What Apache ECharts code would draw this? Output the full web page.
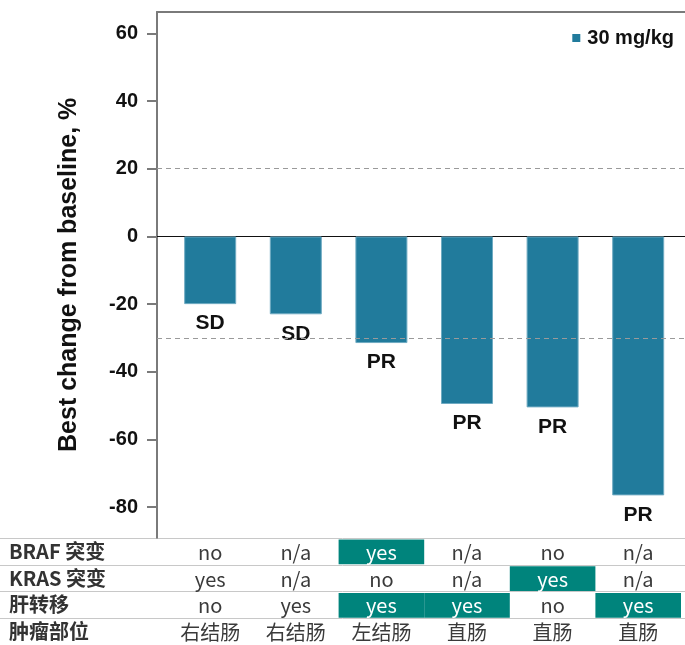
<!DOCTYPE html>
<html>
<head>
<meta charset="utf-8">
<script src="https://cdn.jsdelivr.net/npm/echarts@6/dist/echarts.min.js"></script>
<style>
  html, body { margin: 0; padding: 0; background: #fff; }
  #chart { width: 685px; height: 645px; }
</style>
</head>
<body>
<div id="chart"></div>
<script>
// Best change in tumour size per patient, 30 mg/kg cohort
const seriesName = '30 mg/kg';
const changePct = [-20, -23, -31.5, -49.5, -50.5, -76.5];
const response = ['SD', 'SD', 'PR', 'PR', 'PR', 'PR'];
const yTicks = [-80, -60, -40, -20, 0, 20, 40, 60];
const refLines = [20, -30];

// Patient characteristics shown beneath each bar
const rowLabels = ['BRAF 突变', 'KRAS 突变', '肝转移', '肿瘤部位'];
const brafMut = ['no', 'n/a', 'yes', 'n/a', 'no', 'n/a'];
const krasMut = ['yes', 'n/a', 'no', 'n/a', 'yes', 'n/a'];
const liverMet = ['no', 'yes', 'yes', 'yes', 'no', 'yes'];
const tumourSite = ['右结肠', '右结肠', '左结肠', '直肠', '直肠', '直肠'];

const BAR = '#217b9c';
const TEAL = '#00847c';
const FRAME = '#7a7a7a';
const LATIN = '"Liberation Sans", Arial, sans-serif';
const CJK = '"Noto Sans CJK SC", "Noto Sans", sans-serif';

const tableRows = [brafMut, krasMut, liverMet, tumourSite];
const tableData = [];
tableRows.forEach((row, r) => {
  row.forEach((txt, c) => {
    // "yes" among partial responders is shaded
    const hi = txt === 'yes' && response[c] === 'PR' ? 1 : 0;
    tableData.push([c, r, txt, hi]);
  });
});

// shared horizontal scale: one unit per patient
const X_MAX = 5.5467;
const X_MIN_PLOT = -0.6215;
const X_MIN_TABLE = -2.4556;

const chart = echarts.init(document.getElementById('chart'), null, { renderer: 'canvas' });

chart.setOption({
  backgroundColor: '#fff',
  animation: false,
  legend: {
    data: [seriesName],
    right: 6,
    top: 23,
    icon: 'rect',
    itemWidth: 8,
    itemHeight: 8,
    itemStyle: { borderWidth: 0 },
    textStyle: {
      fontFamily: LATIN, fontWeight: 'bold', fontSize: 20, color: '#111',
      padding: [0, 0, 0, 2]
    }
  },
  grid: [
    { left: 157, right: 0, top: 12, bottom: 107.3 },
    { left: 0, right: 0, top: 538, bottom: -2 }
  ],
  xAxis: [
    {
      gridIndex: 0, type: 'value', min: X_MIN_PLOT, max: X_MAX,
      axisLine: { show: true, onZero: true, lineStyle: { color: '#111', width: 1 } },
      axisTick: { show: false }, axisLabel: { show: false }, splitLine: { show: false }
    },
    {
      gridIndex: 0, type: 'value', position: 'top', min: X_MIN_PLOT, max: X_MAX,
      axisLine: { show: true, onZero: false, lineStyle: { color: FRAME, width: 2 } },
      axisTick: { show: false }, axisLabel: { show: false }, splitLine: { show: false }
    },
    {
      gridIndex: 1, type: 'value', min: X_MIN_TABLE, max: X_MAX,
      axisLine: { show: false }, axisTick: { show: false },
      axisLabel: { show: false }, splitLine: { show: false }
    }
  ],
  yAxis: [
    {
      gridIndex: 0, type: 'value', min: -89, max: 66.3,
      name: 'Best change from baseline, %',
      nameLocation: 'middle',
      nameGap: 75,
      nameTextStyle: { fontFamily: LATIN, fontWeight: 'bold', fontSize: 25, color: '#111' },
      axisLine: { show: true, onZero: false, lineStyle: { color: FRAME, width: 2 } },
      axisTick: { show: true, length: 10, customValues: yTicks, lineStyle: { color: FRAME, width: 2 } },
      axisLabel: {
        customValues: yTicks, margin: 19,
        fontFamily: LATIN, fontWeight: 'bold', fontSize: 20, color: '#111'
      },
      splitLine: { show: false }
    },
    {
      gridIndex: 1, type: 'category', data: rowLabels, inverse: true,
      axisLine: { show: false }, axisTick: { show: false },
      axisLabel: {
        inside: true, margin: 9,
        fontFamily: CJK, fontWeight: 'bold', fontSize: 20, color: '#333'
      },
      splitLine: { show: true, lineStyle: { color: '#c8c8c8', width: 1 } }
    }
  ],
  series: [
    {
      name: seriesName,
      type: 'bar',
      xAxisIndex: 0, yAxisIndex: 0,
      barWidth: 52,
      data: changePct.map((v, i) => [i, v]),
      itemStyle: { color: BAR, borderColor: '#6fabc2', borderWidth: 1 },
      label: {
        show: true, position: 'bottom', distance: 9,
        formatter: p => response[p.dataIndex],
        fontFamily: LATIN, fontWeight: 'bold', fontSize: 21, color: '#111'
      },
      markLine: {
        silent: true, symbol: 'none', label: { show: false },
        lineStyle: { color: '#9a9a9a', type: [5, 4], width: 1 },
        data: refLines.map(v => ({ yAxis: v }))
      }
    },
    {
      type: 'custom',
      xAxisIndex: 2, yAxisIndex: 1,
      data: tableData,
      renderItem: (params, api) => {
        const c = api.coord([api.value(0), api.value(1)]);
        const s = api.size([1, 1]);
        const hi = api.value(3) === 1;
        const children = [];
        if (hi) {
          children.push({
            type: 'rect',
            shape: { x: c[0] - s[0] / 2, y: c[1] - s[1] / 2 + 1.5, width: s[0], height: s[1] - 2 },
            style: { fill: TEAL }
          });
        }
        children.push({
          type: 'text',
          style: {
            x: c[0], y: c[1] + 1,
            text: tableData[params.dataIndex][2],
            align: 'center', verticalAlign: 'middle',
            fontFamily: CJK, fontSize: 20,
            fill: hi ? '#fff' : '#3a3a3a'
          }
        });
        return { type: 'group', children };
      }
    }
  ]
});
</script>
</body>
</html>
